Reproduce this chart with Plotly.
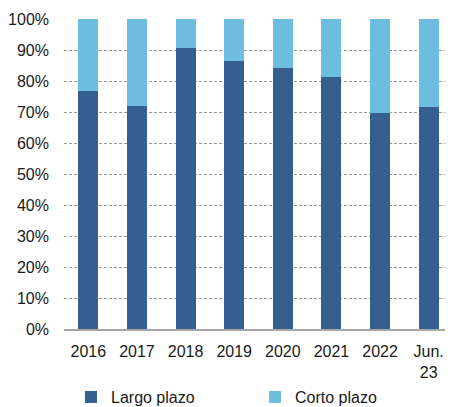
import plotly.graph_objects as go

categories = ["2016", "2017", "2018", "2019", "2020", "2021", "2022", "Jun.<br>23"]
largo_plazo = [76.8, 72.0, 90.7, 86.5, 84.2, 81.4, 69.8, 71.6]
corto_plazo = [round(100 - v, 1) for v in largo_plazo]
y_ticks = [0, 10, 20, 30, 40, 50, 60, 70, 80, 90, 100]
y_tick_labels = [f"{v}%" for v in y_ticks]

fig = go.Figure()
fig.add_trace(go.Bar(x=categories, y=largo_plazo, name="Largo plazo",
                     marker=dict(color="#365F91", line=dict(width=0))))
fig.add_trace(go.Bar(x=categories, y=corto_plazo, name="Corto plazo",
                     marker=dict(color="#6CBDDF", line=dict(width=0))))

fig.update_layout(
    barmode="stack",
    bargap=0.59,
    width=445, height=399,
    margin=dict(l=56, r=0, t=11, b=78, autoexpand=False),
    plot_bgcolor="white", paper_bgcolor="white",
    font=dict(family="Liberation Sans, Arial, sans-serif", size=16, color="#1a1a1a"),
    legend=dict(orientation="h", x=0.018, y=0.025, yref="container", xref="paper",
                yanchor="middle", xanchor="left", traceorder="normal",
                entrywidth=139, entrywidthmode="pixels", font=dict(size=16),
                itemclick=False),
    yaxis=dict(range=[0, 100], tickvals=y_ticks, ticktext=y_tick_labels,
               showgrid=True, gridcolor="#9a9a9a", griddash="3px,2px", gridwidth=1,
               zeroline=False, showline=False, ticks="", ticklen=0, automargin=False,
               ticklabelstandoff=14),
    xaxis=dict(showline=True, linecolor="#a6a6a6", linewidth=2, ticks="",
               showgrid=False, tickangle=0, automargin=False, ticklabelstandoff=7),
)

fig.write_html("out.html")
